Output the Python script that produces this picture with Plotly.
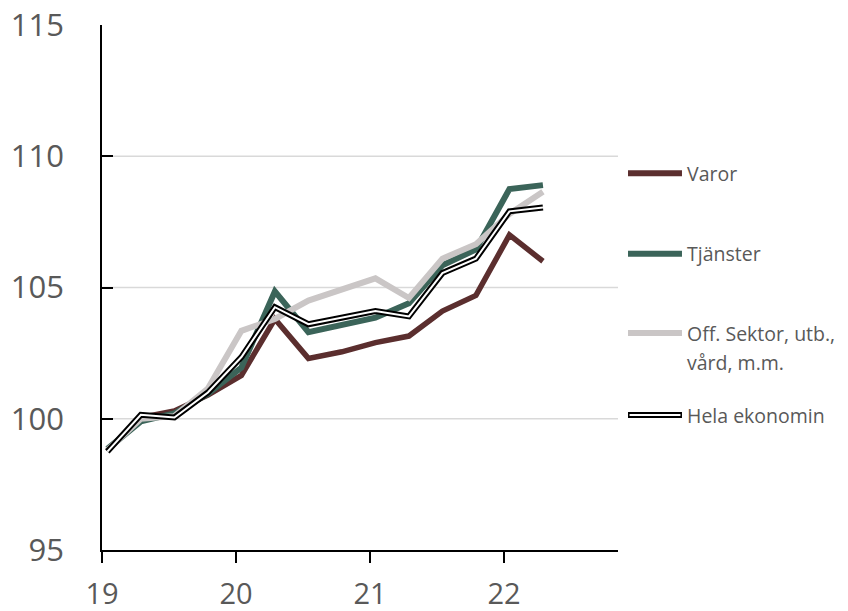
import plotly.graph_objects as go

# quarterly observations (years as 19, 20, ...); points sit slightly after quarter start
quarter_pos = [19.04 + 0.25 * i for i in range(14)]

varor = [98.8, 100.05, 100.3, 100.9, 101.65, 103.8, 102.3, 102.55, 102.9, 103.15, 104.1, 104.7, 107.0, 106.0]
tjanster = [98.85, 99.9, 100.2, 100.95, 101.95, 104.85, 103.3, 103.55, 103.85, 104.4, 105.85, 106.45, 108.75, 108.9]
off_sektor = [98.8, 100.0, 100.1, 101.15, 103.35, 103.8, 104.5, 104.95, 105.35, 104.6, 106.1, 106.65, 107.8, 108.65]
hela = [98.75, 100.15, 100.05, 101.0, 102.35, 104.25, 103.6, 103.85, 104.1, 103.9, 105.55, 106.1, 107.9, 108.05]

x_ticks = [19, 20, 21, 22]
x_tick_labels = ["19", "20", "21", "22"]
y_ticks = [95, 100, 105, 110, 115]
grid_values = [100, 105, 110]

C_VAROR = "#5b2e2e"
C_TJANST = "#3b6459"
C_OFF = "#cac6c6"
TXT = "#595959"
FONT = "Open Sans"

fig = go.Figure()
fig.add_trace(go.Scatter(x=quarter_pos, y=varor, mode="lines", name="Varor",
                         line=dict(color=C_VAROR, width=5.5)))
fig.add_trace(go.Scatter(x=quarter_pos, y=tjanster, mode="lines", name="Tjänster",
                         line=dict(color=C_TJANST, width=6)))
fig.add_trace(go.Scatter(x=quarter_pos, y=off_sektor, mode="lines", name="Off. Sektor, utb., vård, m.m.",
                         line=dict(color=C_OFF, width=6)))
fig.add_trace(go.Scatter(x=quarter_pos, y=hela, mode="lines", name="Hela ekonomin",
                         line=dict(color="black", width=6)))
fig.add_trace(go.Scatter(x=quarter_pos, y=hela, mode="lines", name="Hela ekonomin (inner)",
                         line=dict(color="white", width=2)))

shapes = []
for g in grid_values:
    shapes.append(dict(type="line", xref="paper", x0=0, x1=1, yref="y", y0=g, y1=g,
                       line=dict(color="#d9d9d9", width=1.5), layer="below"))

# manual legend
leg_x0, leg_x1, txt_x = 1.0194, 1.124, 1.130
legend_items = [
    ("Varor", 0.7177, C_VAROR, None),
    ("Tjänster", 0.5641, C_TJANST, None),
    ("Off. Sektor, utb.,", 0.4131, C_OFF, None),
    ("Hela ekonomin", 0.2570, "black", "white"),
]
annotations = []
for label, yy, col, inner in legend_items:
    shapes.append(dict(type="line", xref="paper", yref="paper", x0=leg_x0, x1=leg_x1,
                       y0=yy, y1=yy, line=dict(color=col, width=6)))
    if inner:
        shapes.append(dict(type="line", xref="paper", yref="paper", x0=leg_x0 + 0.003, x1=leg_x1 - 0.003,
                           y0=yy, y1=yy, line=dict(color=inner, width=2)))
    annotations.append(dict(text=label, xref="paper", yref="paper", x=txt_x, y=yy,
                            xanchor="left", yanchor="middle", showarrow=False,
                            font=dict(family=FONT, size=19.5, color=TXT)))
annotations.append(dict(text="vård, m.m.", xref="paper", yref="paper", x=txt_x, y=0.3566,
                        xanchor="left", yanchor="middle", showarrow=False,
                        font=dict(family=FONT, size=19.5, color=TXT)))

fig.update_layout(
    width=840, height=603,
    margin=dict(l=94, r=230, t=17, b=61, autoexpand=False),
    paper_bgcolor="white", plot_bgcolor="white",
    showlegend=False,
    shapes=shapes,
    annotations=annotations,
    font=dict(family=FONT, color=TXT),
)
fig.update_xaxes(range=[19, 22.85], tickvals=x_ticks, ticktext=x_tick_labels, automargin=False,
                 ticklabeloverflow="allow",
                 showgrid=False, zeroline=False, showline=True, linecolor="black", linewidth=1.5,
                 ticks="outside", ticklen=11, tickwidth=1.5, tickcolor="black",
                 tickfont=dict(family=FONT, size=29, color=TXT), ticklabelstandoff=6)
fig.update_yaxes(range=[95, 115], tickvals=y_ticks, automargin=False, showgrid=False, zeroline=False,
                 ticklabeloverflow="allow",
                 showline=True, linecolor="black", linewidth=1.5,
                 ticks="inside", ticklen=11, tickwidth=1.5, tickcolor="black",
                 tickfont=dict(family=FONT, size=31, color=TXT), ticklabelstandoff=30)

fig.write_html("out.html")
